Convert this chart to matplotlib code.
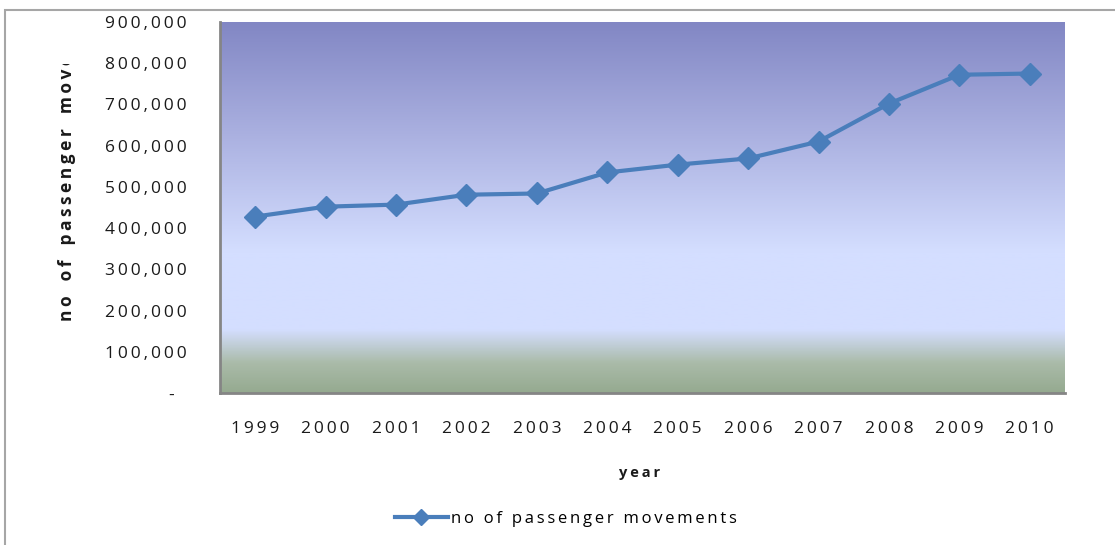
import matplotlib
matplotlib.use('Agg')
import matplotlib.pyplot as plt
import numpy as np
from matplotlib.colors import LinearSegmentedColormap
from matplotlib.patches import Rectangle
from matplotlib.ticker import FuncFormatter

years = ['1999', '2000', '2001', '2002', '2003', '2004',
         '2005', '2006', '2007', '2008', '2009', '2010']
movements = [428000, 452000, 457000, 481000, 484000, 535000,
             554000, 569000, 610000, 702000, 772000, 775000]
y_ticks = [0, 100000, 200000, 300000, 400000, 500000,
           600000, 700000, 800000, 900000]
series_name = 'no of passenger movements'
ylabel = 'no of passenger movements'
xlabel = 'year'

fonts = ['Open Sans', 'DejaVu Sans']
plt.rcParams['font.family'] = fonts
blue = '#4a7ebb'


def track(s, word_gap=' '):
    # fake letter spacing with thin spaces
    out = '\u2009'.join(s)
    return out.replace('\u2009 \u2009', '\u2009' + word_gap + '\u2009')


W, H = 1115, 545
fig = plt.figure(figsize=(W / 100, H / 100), dpi=100)
ax = fig.add_axes([220 / W, 1 - 393 / H, 845 / W, 371 / H])

# background gradient of the plot area (bottom -> top)
cmap = LinearSegmentedColormap.from_list('bg', [
    (0.0, '#95aa90'), (0.08, '#aabba9'), (0.17, '#d4deff'),
    (0.38, '#d4deff'), (0.70, '#aab0e0'), (1.0, '#8287c4')])
grad = np.linspace(0, 1, 256).reshape(-1, 1)
ax.imshow(grad, cmap=cmap, origin='lower', extent=[0, 1, 0, 1],
          transform=ax.transAxes, aspect='auto', zorder=0)

x = np.arange(len(years))
ax.plot(x, movements, color=blue, lw=3, marker='D', markersize=11,
        zorder=3, label=series_name)

ax.set_xlim(-0.5, len(years) - 0.5)
ax.set_ylim(0, 900000)
ax.set_yticks(y_ticks)
ax.set_xticks(x)
ax.set_xticklabels([track(y) for y in years])


def yfmt(v, pos):
    if v == 0:
        return '-\u2002\u2009'
    return track('{:,.0f}'.format(v))


ax.yaxis.set_major_formatter(FuncFormatter(yfmt))
ax.tick_params(axis='y', length=0, pad=24, labelsize=12.5, colors='#1a1a1a')
ax.tick_params(axis='x', length=0, pad=20, labelsize=12.5, colors='#1a1a1a')

for s in ['top', 'right']:
    ax.spines[s].set_visible(False)
for s in ['left', 'bottom']:
    ax.spines[s].set_color('#858585')
    ax.spines[s].set_linewidth(2)

# y label, cut off at the top like in the original
yl = fig.text(67 / W, 1 - 321 / H, track(ylabel, '\u2009 '),
              rotation=90, rotation_mode='anchor', ha='left', va='center',
              fontsize=12.5, fontweight='bold', color='#1a1a1a')
clip = Rectangle((0, 0), 1, 1 - 64 / H, transform=fig.transFigure,
                 facecolor='none', edgecolor='none')
fig.add_artist(clip)
yl.set_clip_path(clip)
yl.set_clip_on(True)

fig.text(640 / W, 1 - 473 / H, track(xlabel), ha='center', va='center',
         fontsize=10.5, fontweight='bold', color='#1a1a1a')

leg = fig.legend(handles=ax.get_lines(),
                 labels=[track(series_name)],
                 loc='center', bbox_to_anchor=(566 / W, 1 - 519 / H),
                 frameon=False, fontsize=12, handlelength=3.2,
                 handletextpad=0.2, markerscale=0.75)

# outer chart border
fig.add_artist(Rectangle((5 / W, -0.1), 1.2, 1 - 10 / H + 0.1,
                         transform=fig.transFigure, facecolor='none',
                         edgecolor='#a6a6a6', lw=1.5, clip_on=False))

fig.savefig('out.png', dpi=100)
